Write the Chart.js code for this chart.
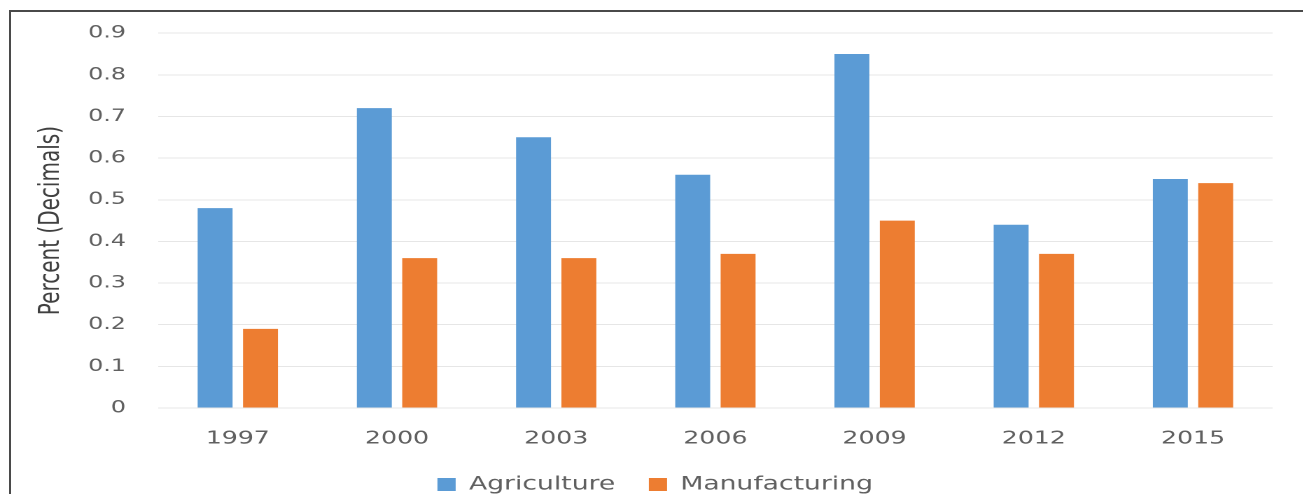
<!DOCTYPE html>
<html>
<head>
<meta charset="utf-8">
<script src="https://cdn.jsdelivr.net/npm/chart.js@4/dist/chart.umd.min.js"></script>
<style>
  html, body { margin: 0; padding: 0; background: #fff; overflow: hidden; }
  body { width: 1303px; height: 494px; position: relative; }
  /* chart is drawn narrow then stretched sideways */
  #wrap { position: absolute; left: 0; top: 0; width: 931px; height: 494px; transform: scaleX(1.4); transform-origin: 0 0; }
  #frame { position: absolute; left: 9px; top: 10px; width: 1400px; height: 600px; border-left: 2px solid #4a4a4a; border-top: 2px solid #4a4a4a; pointer-events: none; }
</style>
</head>
<body>
<div id="wrap"><canvas id="myChart"></canvas></div>
<div id="frame"></div>
<script>
// years on the x axis
const years = ['1997', '2000', '2003', '2006', '2009', '2012', '2015'];
// share per sector, decimals
const agriculture = [0.48, 0.72, 0.65, 0.56, 0.85, 0.44, 0.55];
const manufacturing = [0.19, 0.36, 0.36, 0.37, 0.45, 0.37, 0.54];
// y axis range
const yMin = 0;
const yMax = 0.9;
const yStep = 0.1;

const tickColor = '#606060';

const data = {
  labels: years,
  datasets: [
    {
      label: 'Agriculture',
      data: agriculture,
      backgroundColor: '#5B9BD5',
      borderWidth: 0
    },
    {
      label: 'Manufacturing',
      data: manufacturing,
      backgroundColor: '#ED7D31',
      borderWidth: 0
    }
  ]
};

const config = {
  type: 'bar',
  data: data,
  options: {
    responsive: true,
    maintainAspectRatio: false,
    devicePixelRatio: 2,
    animation: false,
    categoryPercentage: 0.57,
    barPercentage: 0.77,
    layout: {
      // legend hangs a little past the bottom edge
      padding: { left: 27, right: 22, top: 20, bottom: -10 }
    },
    plugins: {
      tooltip: { enabled: false },
      legend: {
        position: 'bottom',
        labels: {
          boxWidth: 13,
          boxHeight: 13,
          padding: 24,
          color: tickColor,
          font: { family: 'DejaVu Sans', size: 19 }
        }
      }
    },
    scales: {
      x: {
        grid: { display: false },
        border: { display: false },
        ticks: {
          color: tickColor,
          padding: 12,
          font: { family: 'DejaVu Sans', size: 18 }
        },
        afterFit: function (scale) { scale.height = 43; }
      },
      y: {
        min: yMin,
        max: yMax,
        grid: { color: '#e6e6e6', lineWidth: 1, drawTicks: false },
        border: { display: false },
        ticks: {
          stepSize: yStep,
          color: tickColor,
          padding: 23,
          font: { family: 'DejaVu Sans', size: 17 },
          callback: function (v) { return String(Math.round(v * 10) / 10); }
        },
        title: {
          display: true,
          text: 'Percent (Decimals)',
          color: '#404040',
          padding: 0,
          font: { family: 'DejaVu Sans', size: 20, lineHeight: 1 }
        },
        afterFit: function (scale) { scale.width = 86; }
      }
    }
  }
};

const myChart = new Chart(
  document.getElementById('myChart'),
  config
);
</script>
</body>
</html>
